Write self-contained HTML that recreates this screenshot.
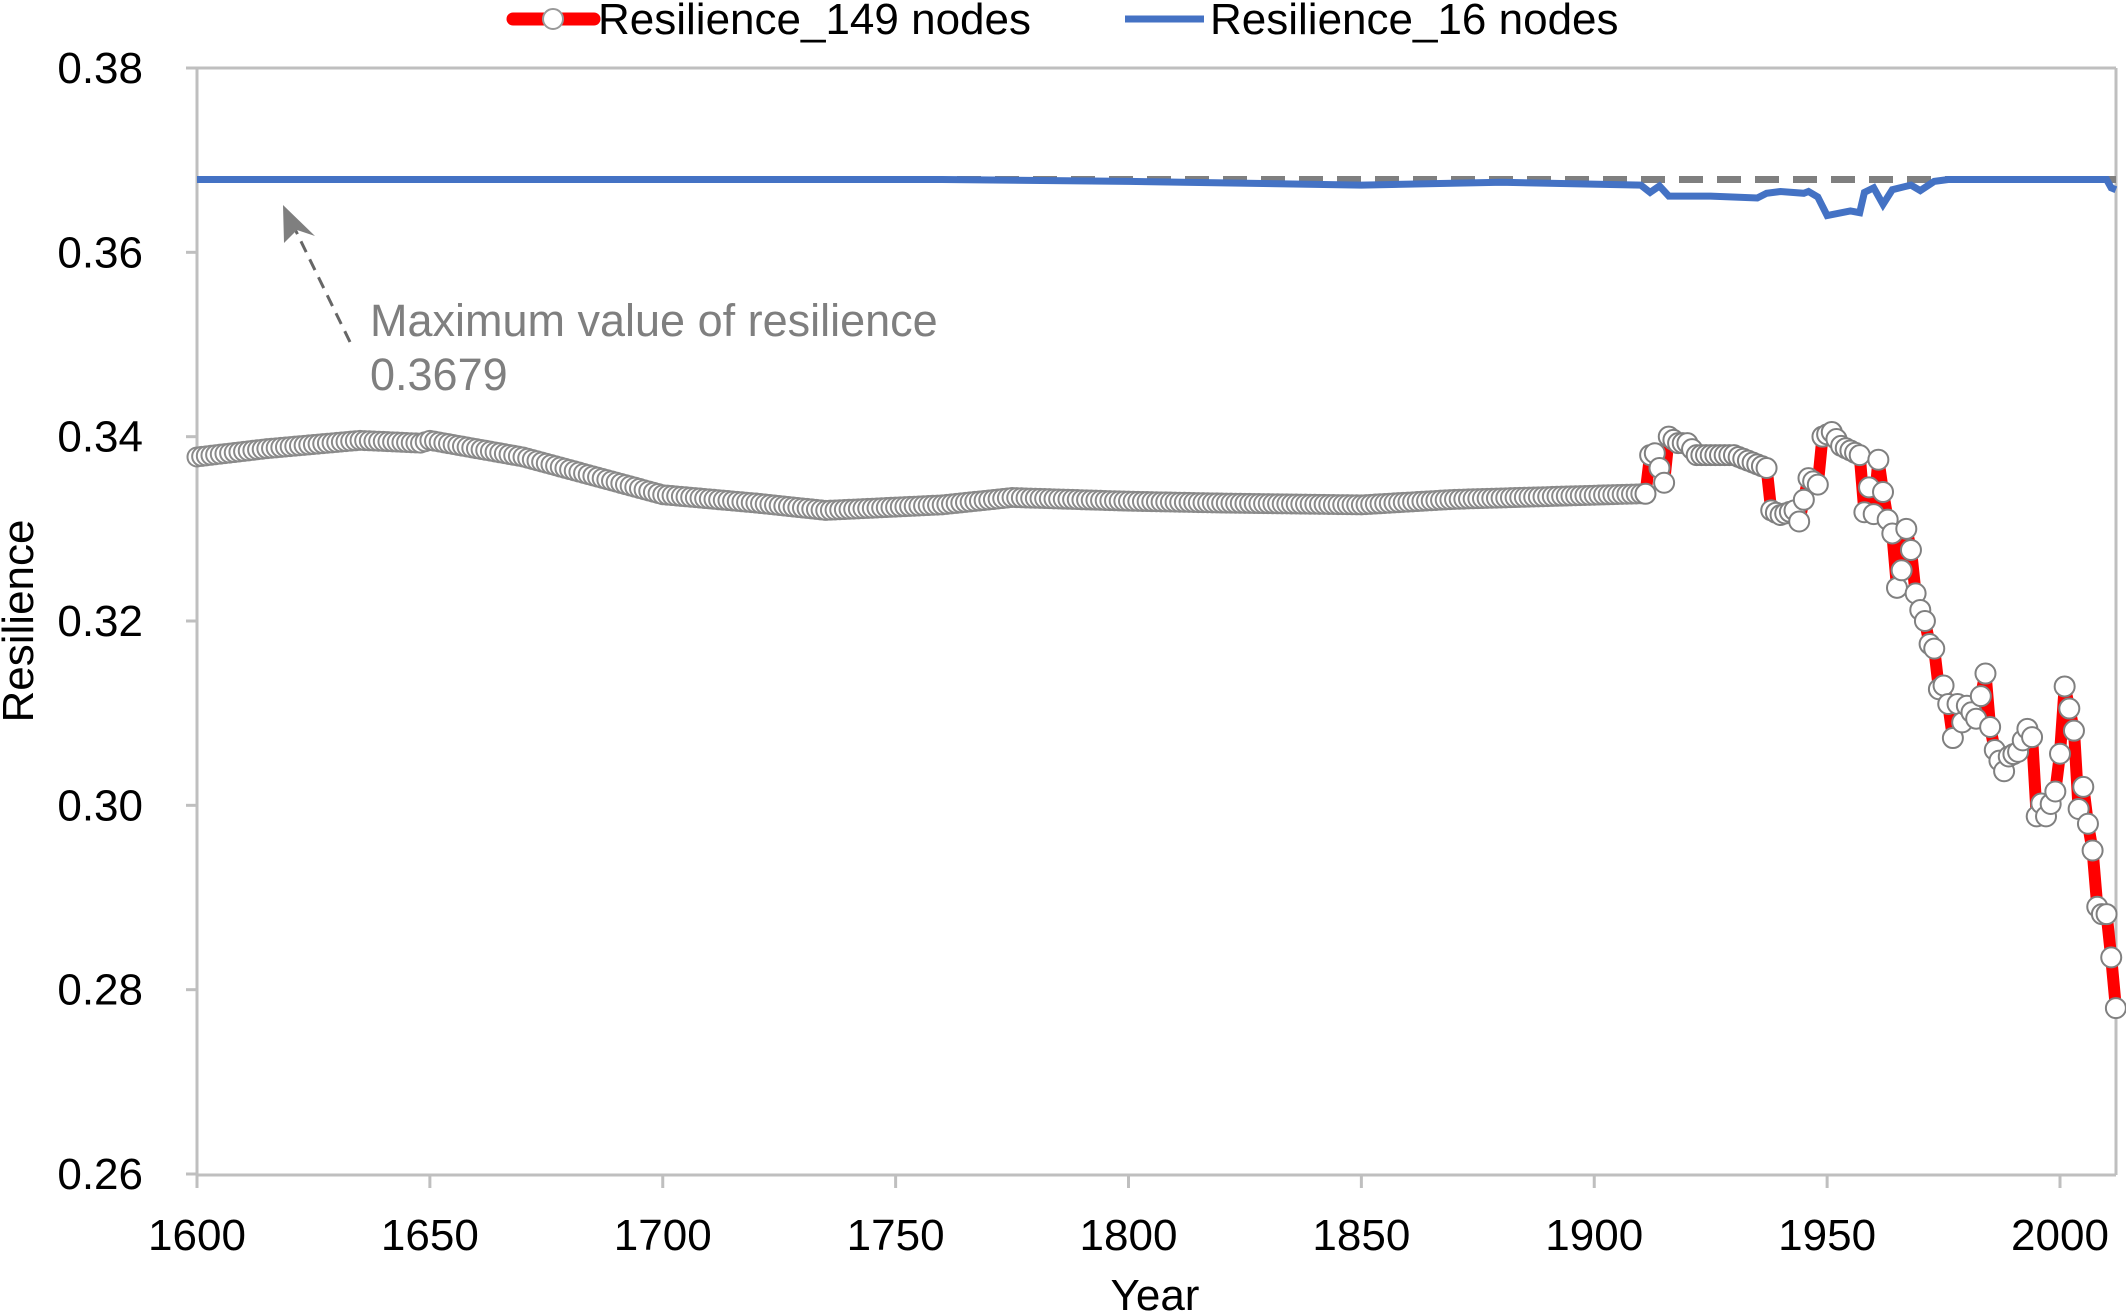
<!DOCTYPE html>
<html><head><meta charset="utf-8"><style>
html,body{margin:0;padding:0;background:#fff;}
svg{display:block;font-family:"Liberation Sans",Arial,sans-serif;}
</style></head><body>
<svg id="s" width="2126" height="1313" viewBox="0 0 2126 1313" xmlns="http://www.w3.org/2000/svg">
<rect width="2126" height="1313" fill="#fff"/>
<g stroke="#bfbfbf" stroke-width="3" fill="none">
<line x1="197" y1="68" x2="197" y2="1175"/>
<line x1="197" y1="1175" x2="2116" y2="1175"/>
<line x1="197" y1="68" x2="2116" y2="68"/>
<line x1="2116" y1="68" x2="2116" y2="1175"/>
</g>
<g id="ticks" stroke="#bfbfbf" stroke-width="3"></g>
<g font-size="44" fill="#000" text-anchor="end" id="ylab"></g>
<g font-size="44" fill="#000" text-anchor="middle" id="xlab"></g>
<text x="1155" y="1310" font-size="44" text-anchor="middle">Year</text>
<text transform="translate(33,621) rotate(-90)" font-size="44" text-anchor="middle">Resilience</text>
<g id="plot"></g>
<g fill="#7f7f7f" font-size="45">
<text x="370" y="336">Maximum value of resilience</text>
<text x="370" y="390">0.3679</text>
</g>
<line x1="350" y1="342" x2="293" y2="225" stroke="#666" stroke-width="3" stroke-dasharray="12,8"/>
<polygon points="283,205 315,236 297,230 284,243" fill="#7f7f7f"/>
<g>
<line x1="513" y1="19" x2="594" y2="19" stroke="#f00" stroke-width="13" stroke-linecap="round"/>
<circle cx="553" cy="19" r="10" fill="#fff" stroke="#999" stroke-width="2"/>
<text x="598" y="34" font-size="44">Resilience_149 nodes</text>
<line x1="1125" y1="19" x2="1204" y2="19" stroke="#4472c4" stroke-width="7"/>
<text x="1210" y="34" font-size="44">Resilience_16 nodes</text>
</g>
</svg>
<script>
var NS="http://www.w3.org/2000/svg";
function X(yr){return 197+(yr-1600)*(2060-197)/400;}
function Y(v){return 68+(0.38-v)*(1174-68)/0.12;}
function el(t,a,p){var e=document.createElementNS(NS,t);for(var k in a)e.setAttribute(k,a[k]);p.appendChild(e);return e;}
var tk=document.getElementById('ticks'),yl=document.getElementById('ylab'),xl=document.getElementById('xlab'),pl=document.getElementById('plot');
for(var i=0;i<=6;i++){var v=0.26+i*0.02,y=Y(v);el('line',{x1:186,y1:y,x2:197,y2:y},tk);var t=el('text',{x:143,y:y+15},yl);t.textContent=v.toFixed(2);}
for(var yr=1600;yr<=2000;yr+=50){var x=X(yr);el('line',{x1:x,y1:1175,x2:x,y2:1188},tk);var t=el('text',{x:x,y:1250},xl);t.textContent=yr;}
function interp(k,yr){for(var i=0;i<k.length-1;i++){if(yr>=k[i][0]&&yr<=k[i+1][0]){var f=(yr-k[i][0])/(k[i+1][0]-k[i][0]);return k[i][1]+f*(k[i+1][1]-k[i][1]);}}return k[k.length-1][1];}
var g=[[1600,0.3378],[1615,0.3387],[1635,0.3396],[1648,0.3393],[1650,0.3396],[1670,0.3378],[1700,0.3337],[1720,0.3328],[1735,0.3320],[1760,0.3326],[1775,0.3334],[1800,0.3330],[1820,0.3328],[1850,0.3326],[1870,0.3332],[1910,0.3338]];
var r0=[[1911,0.3338],[1912,0.338],[1913,0.3382],[1915,0.335],[1916,0.340],[1918,0.3393],[1920,0.3393],[1922,0.338],[1930,0.338],[1935,0.337],[1937,0.3366],[1938,0.332],[1940,0.3315],[1943,0.332],[1944,0.3308],[1946,0.3355],[1948,0.3348],[1949,0.340],[1951,0.3405],[1953,0.339],[1955,0.3385],[1957,0.338],[1958,0.3318],[1959,0.3345],[1960,0.3316],[1961,0.3375],[1962,0.334],[1963,0.331],[1964,0.3295],[1965,0.3236],[1966,0.3255],[1967,0.330],[1968,0.3277],[1969,0.323],[1970,0.3212],[1971,0.320],[1972,0.3175],[1973,0.317],[1974,0.3126],[1975,0.313],[1976,0.311],[1977,0.3073],[1978,0.311],[1979,0.309],[1980,0.3108],[1982,0.3094],[1984,0.3143],[1985,0.3085],[1986,0.306],[1988,0.3037],[1989,0.3053],[1991,0.3058],[1993,0.3083],[1994,0.3074],[1995,0.2988],[1996,0.3002],[1997,0.2988],[1999,0.3015],[2000,0.3056],[2001,0.3129],[2002,0.3105],[2003,0.3081],[2004,0.2996],[2005,0.302],[2006,0.298],[2007,0.2951],[2008,0.2890],[2009,0.2882],[2010,0.2882],[2011,0.2835],[2012,0.2780]];
var r=[];for(var yr=1911;yr<=2012;yr++)r.push([yr,interp(r0,yr)]);
var b=[[1600,0.3679],[1760,0.3679],[1800,0.3677],[1850,0.3673],[1880,0.3676],[1910,0.3673],[1912,0.3665],[1914,0.3672],[1916,0.3661],[1925,0.3661],[1935,0.3659],[1937,0.3664],[1940,0.3666],[1945,0.3664],[1946,0.3666],[1948,0.3660],[1950,0.3640],[1955,0.3645],[1957,0.3643],[1958,0.3665],[1960,0.3670],[1962,0.3652],[1964,0.3668],[1968,0.3673],[1970,0.3667],[1973,0.3677],[1976,0.3679],[1990,0.3679],[2010,0.3679],[2011,0.3670],[2012,0.3668]];
el('line',{x1:197,y1:Y(0.3679),x2:2116,y2:Y(0.3679),stroke:'#7f7f7f','stroke-width':7,'stroke-dasharray':'24,14'},pl);
var bp=b.map(function(p){return X(p[0]).toFixed(1)+','+Y(p[1]).toFixed(1);}).join(' ');
el('polyline',{points:bp,fill:'none',stroke:'#4472c4','stroke-width':7},pl);
var rp=r.map(function(p){return X(p[0]).toFixed(1)+','+Y(p[1]).toFixed(1);}).join(' ');
el('polyline',{points:rp,fill:'none',stroke:'#f00','stroke-width':12,'stroke-linejoin':'round'},pl);
for(var yr=1600;yr<=1910;yr++){el('circle',{cx:X(yr),cy:Y(interp(g,yr)),r:9.5,fill:'#fff',stroke:'#8a8a8a','stroke-width':2},pl);}
r.forEach(function(p){el('circle',{cx:X(p[0]),cy:Y(p[1]),r:10,fill:'#fff',stroke:'#808080','stroke-width':2},pl);});
</script>
</body></html>
